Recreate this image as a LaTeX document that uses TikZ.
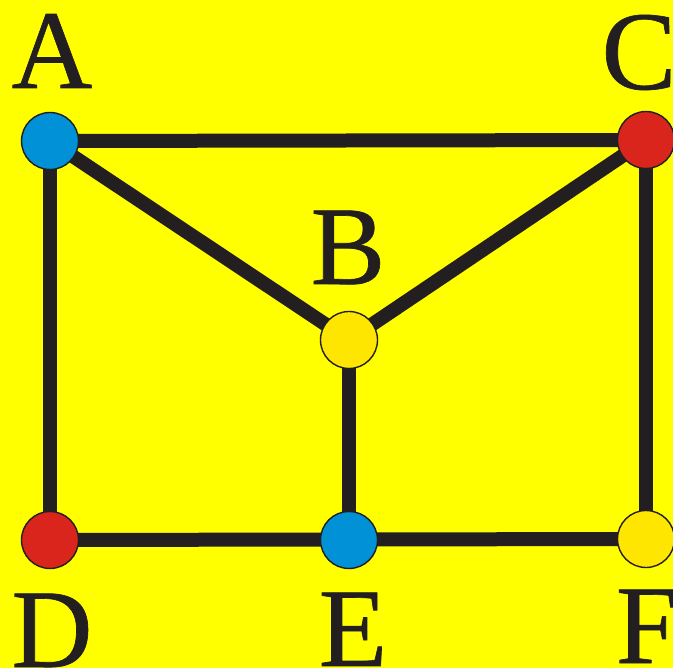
\documentclass[tikz,border=0pt]{standalone}
\usepackage{fontspec}
\setmainfont{Liberation Serif}
\newfontfamily\labfont[FakeBold=0.6]{Liberation Serif}
\definecolor{bgyellow}{HTML}{FFFF00}
\definecolor{nblue}{HTML}{0091D7}
\definecolor{nred}{HTML}{DA251D}
\definecolor{nyellow}{HTML}{FFE600}
\definecolor{edgecol}{HTML}{231F20}
\begin{document}
\begin{tikzpicture}[x=1pt,y=-1pt,
  vert/.style={circle,draw=edgecol,line width=1.4pt,minimum size=57pt,inner sep=0pt},
  lab/.style={anchor=base,text=edgecol,inner sep=0pt,font=\labfont\fontsize{112}{112}\selectfont},
  edge/.style={draw=edgecol,line width=14pt}]
\fill[bgyellow] (0,0) rectangle (673,668);
\useasboundingbox (0,0) rectangle (673,668);
\coordinate (pA) at (50,141);
\coordinate (pC) at (646,140);
\coordinate (pB) at (349,340);
\coordinate (pD) at (50,540);
\coordinate (pE) at (349,540);
\coordinate (pF) at (646,539);
\draw[edge] (pA) -- (pC);
\draw[edge] (pA) -- (pB);
\draw[edge] (pC) -- (pB);
\draw[edge] (pA) -- (pD);
\draw[edge] (pB) -- (pE);
\draw[edge] (pC) -- (pF);
\draw[edge] (pD) -- (pF);
\node[vert,fill=nblue] (A) at (pA) {};
\node[vert,fill=nred] (C) at (pC) {};
\node[vert,fill=nyellow] (B) at (pB) {};
\node[vert,fill=nred] (D) at (pD) {};
\node[vert,fill=nblue] (E) at (pE) {};
\node[vert,fill=nyellow] (F) at (pF) {};
\node[lab] (lA) at (52,88) {A};
\node[lab] (lC) at (639,89) {C};
\node[lab] (lB) at (348,284) {B};
\node[lab] (lD) at (52,667) {D};
\node[lab] (lE) at (353,666) {E};
\node[lab] (lF) at (647,663) {F};
\end{tikzpicture}
\end{document}
